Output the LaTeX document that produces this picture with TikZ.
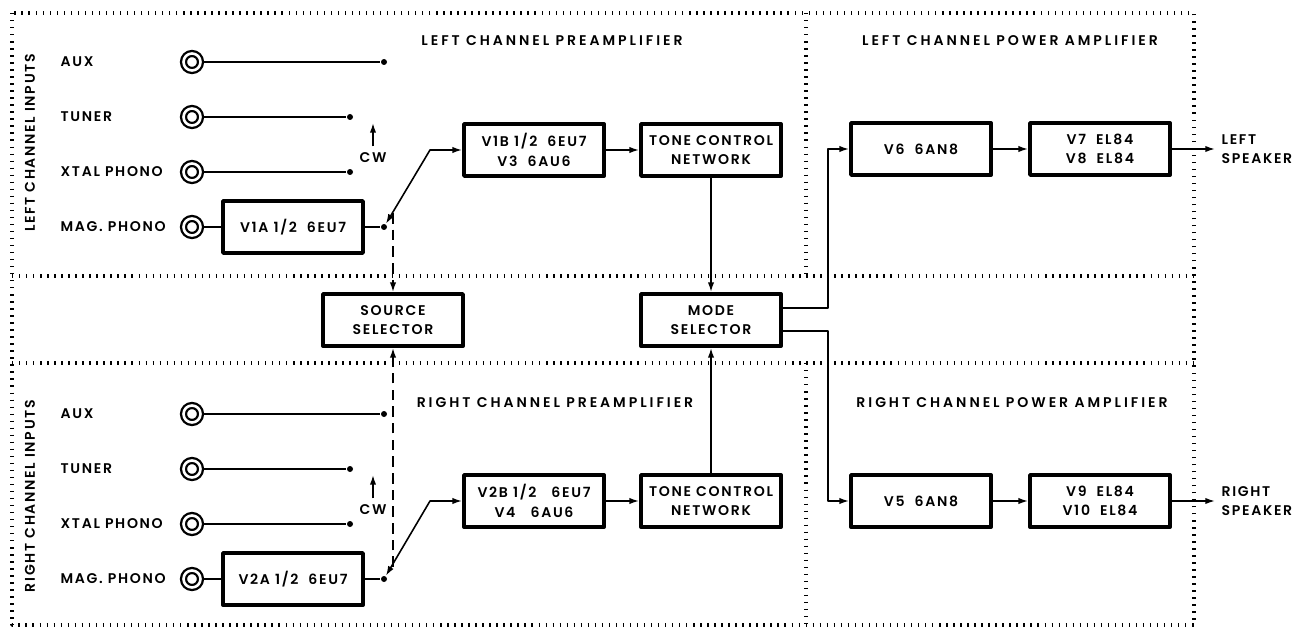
\documentclass[tikz,border=0pt]{standalone}
\usepackage{fontspec}
\setmainfont{Poppins}[UprightFont=* SemiBold, BoldFont=* Bold, LetterSpace=12]
\newfontfamily\ttlfont{Poppins}[UprightFont=* SemiBold, LetterSpace=21]
\usetikzlibrary{arrows.meta}
\tikzset{
blk/.style={draw, line width=2.2pt, minimum width=2.8cm, minimum height=1.04cm, inner sep=0pt, align=center},
jack/.style={circle, draw, line width=1.3pt, double=white, double distance=1.5pt, minimum size=0.34cm, inner sep=0pt, outer sep=2.1pt},
pin/.style={circle, fill, minimum size=0.12cm, inner sep=0pt},
zone/.style={line width=2pt, dash pattern=on 0.8pt off 3.2pt},
dash6/.style={dash pattern=on 6pt off 3.5pt},
ttl/.style={font=\ttlfont\fontsize{8}{11}\selectfont}
}
\begin{document}
\begin{tikzpicture}[x=0.02cm, y=-0.02cm, font=\fontsize{8}{11}\selectfont, line width=0.9pt, line join=round, >={Latex[length=5.5pt,width=3.6pt]}]
\useasboundingbox (0,0) rectangle (1297,628);
%Vẽ khung
\draw[zone] (12,13) rectangle (1194,625);
\draw[zone] (12,276)--(1194,276) (12,363)--(1194,363) (806,13)--(806,276) (806,363)--(806,625);
%Tiêu đề
\node[ttl] at (552,41) {LEFT CHANNEL PREAMPLIFIER};
\node[ttl] at (555,403) {RIGHT CHANNEL PREAMPLIFIER};
\node[ttl] at (1010,41) {LEFT CHANNEL POWER AMPLIFIER};
\node[ttl] at (1012,403) {RIGHT CHANNEL POWER AMPLIFIER};
\node[rotate=90] at (30,143) {LEFT CHANNEL INPUTS};
\node[rotate=90] at (30,496) {RIGHT CHANNEL INPUTS};
%Ngõ vào
\foreach \c/\d in {l/0, r/352}{
\foreach \n/\t/\y/\e in {1/AUX/62/384, 2/TUNER/117/350, 3/XTAL PHONO/172/350, 4/MAG. PHONO/227/384}{
\node[anchor=west] at (54,{\y+\d}) {\t};
\node[jack] (\c j\n) at (192,{\y+\d}) {};
\node[pin] (\c p\n) at (\e,{\y+\d}) {};
}
\foreach \n in {1,2,3} \draw (\c j\n) -- (\c p\n);
\coordinate (\c k) at (430,{150+\d});
}
%Khối
\node[blk] (v1a) at (293,227) {V1A 1/2~~6EU7};
\node[blk] (v2a) at (293,579) {V2A 1/2~~6EU7};
\node[blk] (src) at (393,320) {SOURCE\\SELECTOR};
\node[blk] (v1b) at (534,150) {V1B 1/2~~6EU7\\V3~~6AU6};
\node[blk] (v2b) at (534,501) {V2B 1/2~~~6EU7\\V4~~~6AU6};
\node[blk] (tone1) at (711,150) {TONE CONTROL\\NETWORK};
\node[blk] (tone2) at (711,501) {TONE CONTROL\\NETWORK};
\node[blk] (mode) at (711,320) {MODE\\SELECTOR};
\node[blk] (v6) at (921,149) {V6~~6AN8};
\node[blk] (v7) at (1100,149) {V7~~EL84\\V8~~EL84};
\node[blk] (v5) at (921,501) {V5~~6AN8};
\node[blk] (v9) at (1100,501) {V9~~EL84\\V10~~EL84};
\node[anchor=west, align=left] (lspk) at (1215,149) {LEFT\\SPEAKER};
\node[anchor=west, align=left] (rspk) at (1215,501) {RIGHT\\SPEAKER};
\node (lcw) at (373,158) {CW};
\node (rcw) at (373,510) {CW};
\coordinate (lcwt) at (373,123);
\coordinate (rcwt) at (373,475);
\coordinate (ltop) at (393,213);
\coordinate (rbot) at (393,567);
\coordinate (mL) at (828,308);
\coordinate (mR) at (828,331);
\coordinate (rk2) at (430,501);
%Nối
\draw (lj4) -- (v1a) -- (lp4) (rj4) -- (v2a) -- (rp4);
\draw[<->] (lp4) -- (lk) -- (v1b);
\draw[<->] (rp4) -- (rk2) -- (v2b);
\draw[->] (lcw) -- (lcwt);
\draw[->] (rcw) -- (rcwt);
\draw[dash6,->] (ltop) -- (src);
\draw[dash6,->] (rbot) -- (src);
\draw[->] (v1b) -- (tone1);
\draw[->] (v2b) -- (tone2);
\draw[->] (tone1) -- (mode);
\draw[->] (tone2) -- (mode);
\draw[->] (mode.east |- mL) -- (mL) |- (v6);
\draw[->] (mode.east |- mR) -- (mR) |- (v5);
\draw[->] (v6) -- (v7);
\draw[->] (v5) -- (v9);
\draw[->] (v7) -- (lspk);
\draw[->] (v9) -- (rspk);
\end{tikzpicture}
\end{document}
